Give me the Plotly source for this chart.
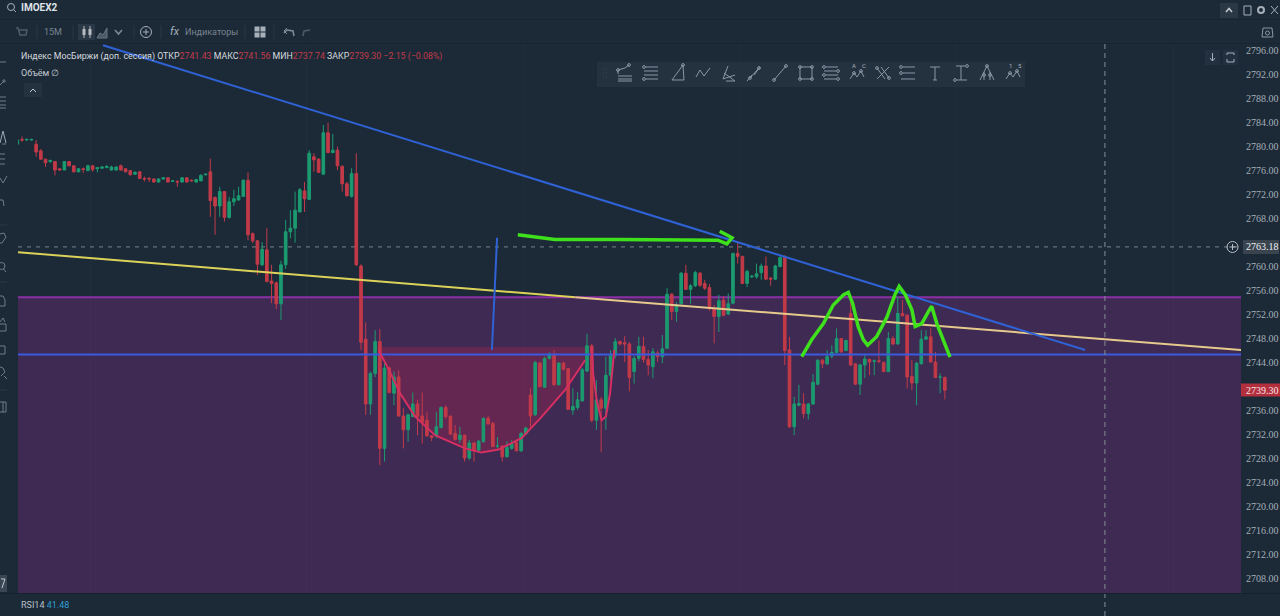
import plotly.graph_objects as go

# ---------- data: 15-minute candles ----------
opens = [
 2780.3,2781.1,2781.0,2781.0,2780.3,2779.2,2777.8,2777.4,2777.4,2776.2,
 2776.0,2777.4,2776.7,2775.7,2776.2,2775.9,2776.7,2776.2,2776.3,2776.4,
 2776.0,2776.0,2776.7,2776.2,2775.9,2775.3,2775.7,2774.6,2774.6,2774.5,
 2774.0,2774.5,2774.7,2774.1,2774.1,2774.0,2774.7,2774.3,2774.0,2774.2,
 2775.2,
 2775.7,2771.4,2770.0,2772.4,2768.1,2770.7,2771.0,2771.6,2774.3,2765.4,
 2764.2,2760.2,2762.7,2757.5,2757.2,2753.7,2760.2,2765.7,2766.3,2769.0,
 2772.5,2771.1,2778.2,2777.8,2775.3,2782.2,2778.9,2779.3,2776.6,2773.7,
 2771.6,2775.4,2760.0,
 2747.8,2737.0,2742.1,2747.4,2729.6,2743.0,2738.8,2741.5,2735.0,2732.7,
 2734.9,2737.0,2735.0,2734.3,2731.7,2731.7,2733.1,2736.4,2735.0,2732.1,
 2731.1,2731.8,2728.0,2730.5,2729.3,2730.7,2734.6,2733.8,2730.0,2730.0,
 2728.2,2729.6,2730.6,2729.2,2732.0,2738.5,2735.2,2743.8,2739.8,2744.6,
 2745.2,2740.2,2743.8,2742.9,2736.0,2736.4,2737.5,2742.5,2746.7,2734.3,
 2737.7,2736.3,2741.8,2745.1,2747.4,
 2747.2,2747.0,2742.4,2744.6,2746.6,2744.4,2743.2,2745.5,2744.9,2746.3,
 2755.3,2752.4,2753.7,2758.8,2756.1,2756.7,2758.8,2757.1,2756.4,2752.9,
 2751.6,2754.3,2752.0,2753.8,2762.1,2761.6,2757.1,2758.2,2758.2,2758.9,
 2760.0,2758.0,2757.8,2759.9,2761.5,2746.0,2733.2,
 2736.8,2737.0,2735.4,2737.0,2740.3,2744.3,2743.7,2745.0,2745.6,2747.9,
 2745.9,2752.1,2743.7,2740.3,2743.5,2744.4,2744.1,2744.2,2743.9,2742.4,
 2747.9,2747.0,2752.1,2751.8,2741.6,2740.5,2743.7,2747.8,2748.2,2744.0,
 2741.5,2741.43]
highs = [
 2781.1,2781.6,2781.2,2781.2,2781.0,2779.5,2777.9,2777.7,2777.5,2776.3,
 2777.5,2777.5,2776.8,2776.3,2776.4,2776.9,2776.8,2776.5,2776.6,2776.8,
 2776.7,2776.6,2776.9,2776.3,2776.0,2775.8,2775.8,2774.9,2774.8,2774.6,
 2774.6,2774.8,2774.8,2774.3,2774.3,2774.8,2774.8,2774.4,2774.5,2775.3,
 2775.4,
 2777.9,2771.6,2773.2,2772.5,2771.5,2772.7,2773.2,2774.4,2775.6,2765.6,
 2764.3,2764.0,2766.3,2760.2,2757.4,2760.9,2767.7,2769.3,2772.4,2773.0,
 2774.0,2779.3,2778.8,2778.0,2783.5,2783.9,2782.0,2779.9,2776.8,2774.0,
 2776.3,2778.8,2760.3,
 2750.6,2742.4,2749.3,2749.5,2743.8,2743.2,2742.4,2742.6,2736.3,2735.4,
 2738.9,2737.7,2738.9,2735.7,2731.8,2735.7,2736.6,2736.8,2735.0,2733.5,
 2733.2,2731.9,2731.0,2730.7,2731.0,2734.8,2735.0,2734.0,2731.5,2730.1,
 2730.8,2731.0,2731.0,2732.3,2733.2,2739.6,2744.2,2744.0,2744.9,2745.6,
 2746.0,2744.0,2744.0,2743.0,2739.6,2739.0,2743.0,2748.7,2747.0,2741.0,
 2738.2,2744.9,2746.0,2748.0,2747.6,
 2748.3,2747.3,2745.0,2748.2,2748.2,2746.0,2746.3,2745.9,2748.5,2756.3,
 2755.5,2754.0,2759.0,2760.2,2757.0,2759.2,2759.0,2757.7,2757.0,2753.5,
 2755.2,2755.0,2755.4,2762.2,2764.0,2761.7,2759.4,2758.5,2760.4,2760.4,
 2761.6,2758.1,2760.2,2761.6,2761.8,2748.2,2738.2,
 2740.2,2738.8,2737.2,2742.0,2744.4,2744.5,2746.0,2746.8,2749.6,2748.0,
 2747.7,2754.0,2743.8,2743.7,2745.4,2744.6,2744.4,2747.6,2744.1,2749.0,
 2748.3,2754.9,2754.3,2752.0,2744.3,2744.0,2749.3,2749.3,2749.6,2745.7,
 2742.1,2741.56]
lows = [
 2780.2,2780.7,2780.9,2780.9,2778.2,2777.7,2776.5,2777.2,2775.1,2775.9,
 2776.0,2776.6,2775.6,2775.6,2775.5,2775.8,2775.7,2775.6,2776.2,2776.3,
 2775.9,2775.9,2775.9,2775.6,2775.1,2775.2,2774.5,2774.1,2774.0,2773.9,
 2773.9,2774.4,2773.9,2774.0,2773.2,2773.9,2773.9,2774.1,2773.9,2774.1,
 2775.1,
 2768.2,2765.2,2768.2,2767.4,2767.9,2770.0,2770.9,2771.5,2764.3,2763.8,
 2758.5,2760.0,2757.3,2753.8,2752.8,2751.0,2759.5,2764.6,2763.9,2769.0,
 2769.0,2771.0,2775.7,2775.5,2775.2,2778.8,2778.8,2776.0,2772.4,2771.6,
 2771.4,2760.0,2746.0,
 2735.2,2735.2,2741.5,2726.8,2727.4,2738.8,2736.8,2734.9,2729.6,2730.7,
 2734.8,2731.8,2730.4,2731.5,2730.8,2731.3,2732.9,2734.5,2731.8,2730.9,
 2730.5,2727.4,2727.7,2727.4,2729.1,2730.6,2733.5,2729.8,2729.6,2727.4,
 2728.1,2729.4,2729.1,2729.0,2731.8,2733.2,2735.0,2739.8,2739.7,2744.4,
 2740.0,2740.1,2742.6,2736.0,2735.2,2736.0,2737.5,2742.3,2734.0,2732.7,
 2729.0,2732.7,2741.0,2744.6,2746.8,
 2744.0,2739.1,2740.4,2744.1,2743.9,2741.8,2741.3,2744.0,2743.8,2746.2,
 2751.0,2750.7,2753.6,2756.0,2753.7,2756.5,2756.5,2756.0,2752.5,2747.1,
 2749.0,2751.6,2751.8,2753.6,2760.4,2757.0,2756.5,2758.0,2757.9,2757.7,
 2757.7,2756.7,2757.7,2759.8,2743.5,2733.0,2731.8,
 2736.6,2734.6,2734.4,2736.9,2740.1,2743.0,2743.5,2744.6,2745.4,2745.5,
 2745.8,2743.3,2740.2,2738.5,2741.3,2741.8,2741.8,2743.8,2742.3,2742.3,
 2746.8,2746.9,2751.6,2739.6,2739.3,2736.8,2743.6,2747.7,2743.9,2741.3,
 2738.8,2737.74]
closes = [
 2781.0,2781.0,2781.1,2781.1,2779.0,2777.8,2777.2,2777.6,2776.0,2776.0,
 2777.4,2776.7,2775.7,2776.2,2776.1,2776.7,2776.1,2776.4,2776.5,2776.6,
 2776.5,2776.5,2776.0,2775.7,2775.2,2775.6,2774.6,2774.5,2774.5,2774.0,
 2774.5,2774.7,2774.0,2774.2,2774.0,2774.7,2774.0,2774.2,2774.4,2775.1,
 2775.3,
 2770.9,2770.0,2772.4,2768.1,2770.7,2771.2,2771.7,2774.3,2765.2,2764.2,
 2760.3,2762.8,2757.4,2757.1,2753.7,2760.2,2765.7,2766.3,2769.3,2772.7,
 2771.2,2778.8,2777.7,2775.6,2782.2,2778.9,2779.3,2776.7,2773.7,2771.7,
 2775.4,2760.2,2747.3,
 2737.0,2742.1,2747.4,2729.6,2743.0,2738.9,2741.5,2735.0,2732.7,2735.2,
 2737.0,2734.9,2734.0,2731.7,2731.4,2733.2,2736.4,2734.9,2732.0,2731.1,
 2731.8,2728.0,2730.5,2729.2,2730.8,2734.6,2733.7,2729.9,2730.0,2728.2,
 2729.8,2730.4,2729.2,2732.1,2733.0,2735.0,2743.9,2739.9,2744.6,2745.3,
 2740.2,2743.8,2742.8,2736.1,2736.6,2737.7,2742.7,2746.7,2734.3,2737.7,
 2736.3,2741.8,2745.3,2747.4,2747.0,
 2747.0,2741.4,2744.6,2746.6,2744.4,2743.5,2745.7,2744.9,2746.2,2755.3,
 2752.4,2753.5,2758.8,2756.1,2756.7,2758.9,2756.8,2756.3,2752.9,2751.6,
 2754.2,2751.8,2753.7,2762.1,2761.6,2757.1,2759.1,2758.3,2758.7,2760.0,
 2757.8,2757.8,2760.0,2761.4,2745.9,2733.2,2737.0,
 2737.1,2735.4,2737.0,2740.6,2744.3,2743.7,2744.9,2745.6,2747.9,2745.7,
 2747.6,2743.5,2740.3,2743.5,2744.5,2744.0,2744.2,2744.1,2742.4,2747.9,
 2747.0,2752.1,2751.7,2741.5,2740.5,2743.8,2747.8,2748.2,2744.0,2741.4,
 2741.5,2739.30]
bar_index = list(range(len(closes)))

# levels and drawings (bar index, price)
zone_top, zone_bottom = 2754.8, 2705.5
level_blue = 2745.25
last_high_level = 2763.18
last_close = 2739.30
crosshair_bar = 231.0
blue_trend_x, blue_trend_y = [18.2, 226.8], [2796.8, 2746.0]
yellow_a_x, yellow_a_y = [0.15, 118.5], [2762.3, 2754.8]
yellow_b_x, yellow_b_y = [118.5, 259.9], [2754.8, 2746.0]
vert_x, vert_y = [101.9, 100.8], [2764.7, 2746.0]
cup_x = [76.2, 76.7, 78.8, 81.3, 84.5, 88.7, 95.1, 98.6, 102.2, 107.1, 111.4, 116.3, 120.6, 121.6]
cup_y = [2746.5, 2746.0, 2742.9, 2738.8, 2734.9, 2731.8, 2729.6, 2728.9, 2729.4, 2731.3, 2734.9, 2739.3, 2744.3, 2746.5]
handle_x = [122.0, 122.3, 123.1, 124.1, 125.0, 125.9, 126.8]
handle_y = [2746.5, 2742.1, 2737.4, 2734.3, 2734.9, 2738.8, 2746.0]
arrow_x = [106.3, 109.9, 114.2, 128.0, 145.0, 148.8, 150.7, 151.8, 149.2]
arrow_y = [2765.2, 2764.8, 2764.4, 2764.4, 2764.4, 2764.3, 2763.7, 2764.7, 2765.8]
peaks_x = [166.6, 168.7, 171.2, 173.3, 175.5, 176.5, 177.4, 178.6, 179.7, 180.6, 182.5, 184.7,
           186.4, 187.3, 188.6, 190.0, 190.7, 192.1, 193.5, 194.2, 195.3, 196.7, 197.4, 198.1]
peaks_y = [2744.9, 2747.7, 2750.4, 2753.5, 2755.2, 2755.6, 2753.8, 2749.9, 2747.7, 2746.8, 2748.2, 2751.5,
           2755.2, 2756.6, 2755.2, 2752.7, 2749.9, 2750.4, 2752.4, 2753.3, 2750.4, 2747.4, 2746.0, 2744.8]
tick_values = list(range(2708, 2797, 4))
hidden_ticks = [2764, 2740]

# ---------- style ----------
W, H = 1280, 616
L, R, T, B = 18, 39, 44, 23
BG = "#1c2a38"
UP, DOWN = "#1c9a70", "#c23a48"
ICON = "#8a97a4"
UI_FONT = "Roboto"
GRID = "rgba(255,255,255,0.018)"

def px(x):
    return (x - L) / (W - L - R)

def py(y):
    return (H - B - y) / (H - T - B)

fig = go.Figure()
shapes = []
notes = []

def poly(points, color=ICON, width=1, closed=False, fill=None):
    d = "M" + " L".join(f"{px(x):.5f},{py(y):.5f}" for x, y in points) + (" Z" if closed else "")
    shapes.append(dict(type="path", xref="paper", yref="paper", path=d,
                       line=dict(color=color, width=width), fillcolor=fill, layer="above"))

def box(x0, y0, x1, y1, fill, line=None, layer="above"):
    shapes.append(dict(type="rect", xref="paper", yref="paper", x0=px(x0), x1=px(x1), y0=py(y0), y1=py(y1),
                       fillcolor=fill, line=dict(color=line or fill, width=1 if line else 0), layer=layer))

def ring(cx, cy, r, color=ICON, width=1):
    shapes.append(dict(type="circle", xref="paper", yref="paper", x0=px(cx - r), x1=px(cx + r),
                       y0=py(cy + r), y1=py(cy - r), line=dict(color=color, width=width), layer="above"))

def text(x, y, s, size=9, color="#aeb6bf", anchor="left", family=UI_FONT):
    notes.append(dict(xref="paper", yref="paper", x=px(x), y=py(y), text=s, showarrow=False,
                      xanchor=anchor, yanchor="middle", align=anchor, borderpad=0, borderwidth=0,
                      font=dict(size=size, color=color, family=family)))

# zones under the candles
shapes.append(dict(type="rect", xref="paper", yref="y", x0=0, x1=1, y0=zone_bottom, y1=zone_top,
                   fillcolor="#3e2a53", line=dict(width=0), layer="below"))
cup_path = "M" + " L".join(f"{x},{y}" for x, y in zip(cup_x, cup_y)) + " Z"
shapes.append(dict(type="path", xref="x", yref="y", path=cup_path, fillcolor="#632751",
                   line=dict(width=0), layer="below"))
shapes.append(dict(type="line", xref="paper", yref="y", x0=0, x1=1, y0=zone_top, y1=zone_top,
                   line=dict(color="#8c2fa6", width=2), layer="below"))
shapes.append(dict(type="line", xref="paper", yref="y", x0=0, x1=1, y0=last_high_level, y1=last_high_level,
                   line=dict(color="#7a838c", width=1, dash="4px,5px"), layer="below"))
shapes.append(dict(type="line", xref="x", yref="paper", x0=crosshair_bar, x1=crosshair_bar, y0=py(H), y1=1,
                   line=dict(color="#868d94", width=1, dash="5px,4px"), layer="above"))

fig.add_trace(go.Candlestick(
    x=bar_index, open=opens, high=highs, low=lows, close=closes,
    increasing=dict(line=dict(color=UP, width=1), fillcolor=UP),
    decreasing=dict(line=dict(color=DOWN, width=1), fillcolor=DOWN),
    whiskerwidth=0, hoverinfo="skip", showlegend=False))

def line(xs, ys, color, width):
    fig.add_trace(go.Scatter(x=xs, y=ys, mode="lines", hoverinfo="skip", showlegend=False,
                             line=dict(color=color, width=width, shape="linear"), cliponaxis=True))

line([0.15, 259.9], [level_blue, level_blue], "#3a5be0", 1.8)
line(yellow_a_x, yellow_a_y, "#dcd25a", 2)
line(yellow_b_x, yellow_b_y, "#e6c98c", 2)
line(blue_trend_x, blue_trend_y, "#2f62d4", 2)
line(vert_x, vert_y, "#2f62d4", 2)
line(cup_x[1:-1], cup_y[1:-1], "#d62f62", 2)
line(handle_x, handle_y, "#d62f62", 2)
line(arrow_x, arrow_y, "#3fe01c", 3.5)
line(peaks_x, peaks_y, "#3fe01c", 3.5)

# price axis tags: boxes sit under the axis labels
box(1243, 240, 1279, 254, "#39444f", layer="below")
box(1241, 383.5, 1280, 396.5, "#b32f3e", layer="below")
ring(1232.5, 247, 5.5, "#b8bec5")
poly([(1229.5, 247), (1235.5, 247)], "#b8bec5")
poly([(1232.5, 244), (1232.5, 250)], "#b8bec5")

# legend text
text(21, 57,
     '<span style="color:#d6dadf">Индекс МосБиржи (доп. сессия) ОТКР</span>'
     '<span style="color:#c23a48">2741.43</span>'
     '<span style="color:#d6dadf"> МАКС</span><span style="color:#c23a48">2741.56</span>'
     '<span style="color:#d6dadf"> МИН</span><span style="color:#c23a48">2737.74</span>'
     '<span style="color:#d6dadf"> ЗАКР</span><span style="color:#c23a48">2739.30 −2.15 (−0.08%)</span>', 8.8)
text(21, 73, "Объём ∅", 9, "#c3c9cf")
box(24, 83, 42, 97, "#243240")
poly([(30, 92), (33, 89), (36, 92)], "#c3c9cf")
text(21, 605, '<span style="color:#b9c0c7">RSI14</span> <span style="color:#2f9fd0">41.48</span>', 9)

# top bars
ring(11, 7, 3.5, "#a7b0b9")
poly([(13.5, 9.5), (16, 12)], "#a7b0b9")
text(21, 8, "<b>IMOEX2</b>", 10, "#dfe3e7")
box(0, 19, W, 20, "#18242f")
box(0, 43, W, 44, "#18242f")
poly([(16, 28), (18, 28), (20, 35), (26, 35), (27, 30), (19, 30)], "#4e5b68", 1.5)
text(53, 32, "15M", 9, "#79848f", "center")
box(78, 24, 95, 40, "#2a3846")
for cx in (84, 90):
    poly([(cx, 26), (cx, 38)], "#b5bcc4")
    box(cx - 1.5, 29, cx + 1.5, 35, "#b5bcc4")
poly([(97, 38), (100, 33), (103, 35), (107, 28), (107, 38)], "#6a7682", 1, True, "#4b5763")
poly([(115, 30), (118.5, 34), (122, 30)], "#7f8c99", 1.5)
ring(146, 32, 5.5, "#a7b0b9")
poly([(143, 32), (149, 32)], "#a7b0b9")
poly([(146, 29), (146, 35)], "#a7b0b9")
text(170, 32, "<i>fx</i>", 11, "#a7b0b9")
text(185, 32, "Индикаторы", 9, "#79848f")
for gx in (257, 263):
    for gy in (29, 35):
        box(gx - 2.5, gy - 2.5, gx + 2.5, gy + 2.5, "#a7b0b9")
poly([(284, 33), (287, 30), (293, 31), (294, 36)], "#7f8c99", 1.5)
poly([(287, 28), (284, 31), (287, 34)], "#7f8c99", 1)
poly([(303, 36), (304, 31), (310, 30)], "#4e5b68", 1.5)
for sx in (37, 73, 134, 161, 245, 274):
    poly([(sx, 25), (sx, 39)], "#2a3744")
box(1220, 3, 1238, 18, "#2a3846")
poly([(1226, 12), (1229, 8.5), (1232, 12)], "#c3c9cf", 1.5)
poly([(1244, 6), (1244, 15), (1251, 15), (1251, 6)], "#a7b0b9", 1, True)
ring(1261, 10, 3, "#a7b0b9", 2)
poly([(1271, 6), (1278, 14)], "#a7b0b9")
poly([(1278, 6), (1271, 14)], "#a7b0b9")
poly([(1263, 28), (1272, 28), (1273, 37), (1262, 37)], "#8a96a1", 1, True)
ring(1267.5, 33, 2, "#8a96a1")
box(1205, 50, 1220, 65, "#223040")
poly([(1212.5, 53), (1212.5, 61)], "#a7b0b9")
poly([(1210, 58), (1212.5, 61), (1215, 58)], "#a7b0b9")
box(1223, 50, 1238, 65, "#223040")
poly([(1227, 55), (1227, 53), (1234, 53), (1234, 55)], "#a7b0b9")
poly([(1227, 59), (1227, 62), (1234, 62), (1234, 59)], "#a7b0b9")

# floating drawing toolbar
box(597, 62, 1025, 87, "#243240")
for gy in (69, 73, 77):
    poly([(603, gy), (604, gy)], "#3b4956")
    poly([(606, gy), (607, gy)], "#3b4956")

def ic(cx, segs, dots=(), cy=73):
    for s in segs:
        poly([(cx + a, cy + b) for a, b in s])
    for a, b in dots:
        ring(cx + a, cy + b, 1.4)

ic(625, [[(-7, 1), (-7, -3), (0, -5), (4, -8)], [(-7, 3), (7, 3)], [(-7, 6), (7, 6)], [(-7, 8), (7, 8)]], [(-7, -3), (4, -8)])
ic(651, [[(-5, -6), (7, -6)], [(-7, -2), (7, -2)], [(-7, 2), (7, 2)], [(-5, 6), (7, 6)]], [(-7, -6), (-7, 6)])
ic(678, [[(-6, 7), (6, 7), (5, -8), (-6, 7)]], [(5, -8)])
ic(703, [[(-7, 4), (-3, -3), (1, 3), (7, -5)]])
ic(729, [[(-6, 6), (-1, -7)], [(-6, 6), (6, 2)], [(-5, 0), (6, 8), (-3, 8)]])
ic(754, [[(-4, 5), (5, -5)], [(-7, 8), (-2, 2)], [(0, 2), (6, -6)]], [(5, -5), (-4, 5)])
ic(780, [[(-6, 7), (6, -7)]], [(-6, 7), (6, -7)])
ic(806, [[(-6, -6), (6, -6), (6, 6), (-6, 6), (-6, -6)]], [(-6, -6), (6, -6), (6, 6), (-6, 6)])
ic(831, [[(-5, -6), (7, -6)], [(-7, -2), (5, -2)], [(-5, 2), (7, 2)], [(-7, 6), (5, 6)]], [(-7, -6), (7, -2), (-7, 2), (7, 6)])
ic(857, [[(-7, 6), (-3, 0), (0, 4), (4, -2), (7, 4)]], [(-3, 0), (4, -2)])
ic(883, [[(-6, -5), (2, 6)], [(-2, -6), (6, 5)], [(-6, 6), (6, -6)]], [(-6, -5), (6, 5)])
ic(908, [[(-5, -6), (7, -6)], [(-5, 0), (7, 0)], [(-7, 6), (7, 6)]], [(-7, -6), (-7, 0)])
ic(935, [[(-5, -6), (5, -6)], [(0, -6), (0, 7)], [(-2, 7), (2, 7)]])
ic(961, [[(-5, -7), (4, -7)], [(0, -7), (0, 7)], [(-4, 7), (6, 7)]], [(6, -7), (-6, 7)])
ic(987, [[(-7, 7), (-3, -1), (0, -7), (3, -1), (7, 7)], [(-3, 7), (-3, -1)], [(3, 7), (3, -1)]], [(-3, 2), (3, 2), (0, -7)])
ic(1013, [[(-7, 6), (-3, 0), (0, 4), (4, -2), (7, 4)]], [(-3, 0), (4, -2)])
text(854, 65.5, "A", 6, "#a7b0b9", "center")
text(864, 65.5, "C", 6, "#a7b0b9", "center")
text(1010, 65.5, "1", 6, "#a7b0b9", "center")
text(1020, 65.5, "5", 6, "#a7b0b9", "center")

# side rail glyphs, cut off by the left edge
RAIL = "#6f7c89"
poly([(0, 62), (6, 62)], RAIL)
poly([(0, 85), (4, 81)], RAIL)
ring(4, 81, 1.2, RAIL)
for gy in (97, 101, 105, 108):
    poly([(0, gy), (6, gy)], RAIL)
poly([(0, 143), (3, 131), (6, 143)], "#a0abb5")
poly([(2, 144), (6, 144)], RAIL)
for gy in (154, 159, 164):
    poly([(0, gy), (5, gy)], RAIL)
poly([(0, 178), (3, 183), (7, 176)], RAIL)
poly([(0, 200), (3, 200), (4, 206)], RAIL)
for gy in (225, 282, 390):
    poly([(0, gy), (7, gy)], "#2a3744")
poly([(0, 234), (4, 233), (6, 237), (2, 243), (0, 243)], RAIL)
ring(1.5, 266, 3.5, RAIL)
poly([(3.5, 269), (6, 272)], RAIL)
poly([(0, 296), (3, 296), (5, 300), (5, 306), (0, 306)], RAIL)
poly([(0, 322), (3, 318), (5, 322)], RAIL)
poly([(0, 324), (6, 324), (6, 331), (0, 331)], RAIL)
poly([(0, 346), (5, 346), (5, 354), (0, 354)], RAIL)
poly([(0, 367), (3, 368), (5, 372), (1, 376)], RAIL)
poly([(4, 376), (7, 379)], RAIL)
poly([(0, 402), (6, 402), (6, 412), (0, 412)], RAIL)
poly([(3, 402), (3, 412)], RAIL)
box(0, 575, 7, 592, "#3a4653")
poly([(1, 579), (5, 579), (2, 588)], "#c3c9cf")
box(0, 593, W, 594, "#15212c")

tick_vals = [v for v in tick_values if v not in hidden_ticks] + [last_high_level, last_close]
tick_text = [f"{v}.00" for v in tick_values if v not in hidden_ticks] + [
    f'<span style="color:#eef1f4">{last_high_level:.2f}</span>',
    f'<span style="color:#f7e7e9">{last_close:.2f}</span>']

fig.update_layout(
    width=W, height=H, autosize=False,
    margin=dict(l=L, r=R, t=T, b=B, pad=0),
    paper_bgcolor=BG, plot_bgcolor=BG,
    boxgap=0.2,
    showlegend=False,
    shapes=shapes, annotations=notes,
    font=dict(family=UI_FONT, color="#aeb6bf"),
    xaxis=dict(range=[0.15, 259.9], showticklabels=False, ticks="", showgrid=True,
               gridcolor=GRID, gridwidth=1, dtick=46, tick0=61.5, zeroline=False,
               showline=False, rangeslider=dict(visible=False), fixedrange=True),
    yaxis=dict(range=[2705.5, 2797], side="right", tickmode="array",
               tickvals=tick_vals, ticktext=tick_text,
               tickfont=dict(size=10, color="#a4adb6", family="Liberation Sans Narrow"),
               ticks="outside", ticklen=2, tickcolor="rgba(0,0,0,0)", showgrid=False,
               zeroline=False, showline=False, fixedrange=True, automargin=False),
)

fig.write_html("out.html", config=dict(displayModeBar=False),
               post_script=f"document.body.style.margin='0';document.body.style.background='{BG}';document.body.style.overflow='hidden';")
